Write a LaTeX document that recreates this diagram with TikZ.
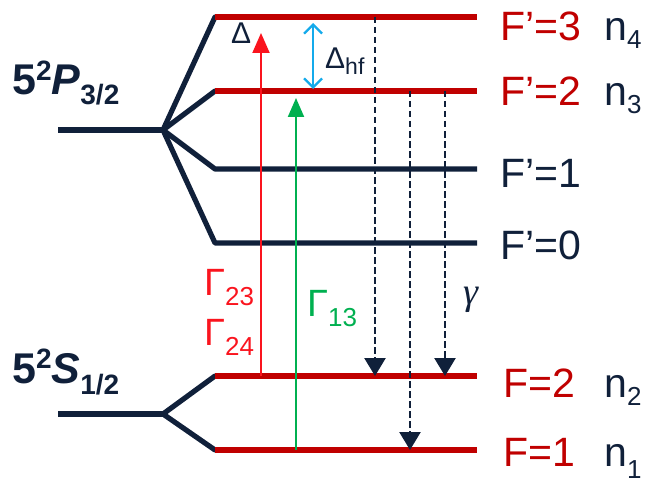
\documentclass[tikz,border=0pt]{standalone}
\usepackage{fontspec}
\setmainfont{Liberation Sans}
\newfontfamily\gamfont{Liberation Serif}
\usetikzlibrary{arrows.meta}
\definecolor{navy}{RGB}{16,32,58}
\definecolor{lvlred}{RGB}{192,0,0}
\definecolor{brred}{RGB}{250,20,30}
\definecolor{grn}{RGB}{0,176,80}
\definecolor{blu}{RGB}{20,170,235}
\newcommand{\fs}[1]{\fontsize{#1}{#1}\selectfont}
\begin{document}
\begin{tikzpicture}[x=1pt,y=-1pt,
  navyline/.style={navy,line width=5.2pt,line join=round},
  redline/.style={lvlred,line width=5.2pt},
  pump/.style={line width=2pt,-{Triangle[width=17pt,length=20pt]}},
  decay/.style={navy,line width=2.6pt,dash pattern=on 6.5pt off 3.5pt,-{Triangle[width=21pt,length=18pt]}},
  flab/.style={anchor=base west,inner sep=0pt,font=\fs{41}},
  nlab/.style={anchor=base west,inner sep=0pt,font=\fs{41},text=navy},
  txt/.style={inner sep=0pt}]
\useasboundingbox (0,0) rectangle (650,484);
% coordinates of levels
\coordinate (Pc) at (58,130); \coordinate (Pv) at (163,130);
\coordinate (P3l) at (215,17);  \coordinate (P3r) at (477,17);
\coordinate (P2l) at (215,91);  \coordinate (P2r) at (477,91);
\coordinate (P1l) at (215,169); \coordinate (P1r) at (477,169);
\coordinate (P0l) at (215,243); \coordinate (P0r) at (477,243);
\coordinate (Sc) at (58,414); \coordinate (Sv) at (163,414);
\coordinate (S2l) at (215,376); \coordinate (S2r) at (477,376);
\coordinate (S1l) at (215,450); \coordinate (S1r) at (477,450);
% fans
\draw[navyline] (Pc) -- (Pv);
\draw[navyline,line cap=round] (Pv) -- (P3l);
\draw[navyline,line cap=round] (Pv) -- (P2l);
\draw[navyline] (Pv) -- (P1l) -- (P1r);
\draw[navyline] (Pv) -- (P0l) -- (P0r);
\draw[navyline] (Sc) -- (Sv);
\draw[navyline,line cap=round] (Sv) -- (S2l);
\draw[navyline,line cap=round] (Sv) -- (S1l);
% red levels
\draw[redline] (P3l) -- (P3r);
\draw[redline] (P2l) -- (P2r);
\draw[redline] (S2l) -- (S2r);
\draw[redline] (S1l) -- (S1r);
% pump arrows
\coordinate (rb) at (261,376); \coordinate (rt) at (261,33);
\coordinate (gb) at (296,450); \coordinate (gt) at (296,98);
\draw[pump,brred] (rb) -- (rt);
\draw[pump,grn,-{Triangle[width=16pt,length=19pt]}] (gb) -- (gt);
% hyperfine splitting
\coordinate (bt) at (313,23); \coordinate (bb) at (313,89);
\draw[blu,line width=2.3pt,{Straight Barb[width=18pt,length=9pt]}-{Straight Barb[width=18pt,length=9pt]}] (bt) -- (bb);
% decays
\coordinate (d1t) at (375,17);  \coordinate (d1b) at (375,376);
\coordinate (d2t) at (410,91);  \coordinate (d2b) at (410,450);
\coordinate (d3t) at (445,91);  \coordinate (d3b) at (445,376);
\draw[decay] (d1t) -- (d1b);
\draw[decay] (d2t) -- (d2b);
\draw[decay] (d3t) -- (d3b);
% labels right
\node[flab,text=lvlred] (l3) at (500,41) {F’=3};
\node[flab,text=lvlred] (l2) at (500,106) {F’=2};
\node[flab,text=navy] (l1) at (500,187) {F’=1};
\node[flab,text=navy] (l0) at (500,259) {F’=0};
\node[flab,text=lvlred] (lS2) at (503,397) {F=2};
\node[flab,text=lvlred] (lS1) at (503,466) {F=1};
\node[nlab] (n4) at (604,41) {n\raisebox{-8pt}{\fs{26}4}};
\node[nlab] (n3) at (604,106) {n\raisebox{-8pt}{\fs{26}3}};
\node[nlab] (n2) at (604,397) {n\raisebox{-8pt}{\fs{26}2}};
\node[nlab] (n1) at (604,466) {n\raisebox{-12pt}{\fs{26}1}};
% term labels
\node[anchor=base west,inner sep=0pt,text=navy] (tP) at (12,95)
  {\fs{43}\bfseries 5\raisebox{14pt}{\fs{28}\bfseries 2}\textit{P}\raisebox{-10pt}{\fs{28}\bfseries 3/2}};
\node[anchor=base west,inner sep=0pt,text=navy] (tS) at (12,383)
  {\fs{43}\bfseries 5\raisebox{15pt}{\fs{28}\bfseries 2}\textit{S}\raisebox{-11pt}{\fs{28}\bfseries 1/2}};
% Deltas
\node[anchor=base west,inner sep=0pt,text=navy] (dl) at (231,44) {\fs{30}Δ};
\node[anchor=base west,inner sep=0pt,text=navy] (dhf) at (325,69) {\fs{30}Δ\raisebox{-6pt}{\fs{23}hf}};
% Gammas
\node[anchor=base west,inner sep=0pt,text=brred] (g23) at (204,295) {\fs{38}Γ\raisebox{-10pt}{\fs{26}23}};
\node[anchor=base west,inner sep=0pt,text=brred] (g24) at (204,345) {\fs{38}Γ\raisebox{-10pt}{\fs{26}24}};
\node[anchor=base west,inner sep=0pt,text=grn] (g13) at (307,316) {\fs{38}Γ\raisebox{-10pt}{\fs{26}13}};
\node[anchor=base west,inner sep=0pt,text=navy] (gam) at (463,304) {\gamfont\itshape\fs{38}γ};
\end{tikzpicture}
\end{document}
